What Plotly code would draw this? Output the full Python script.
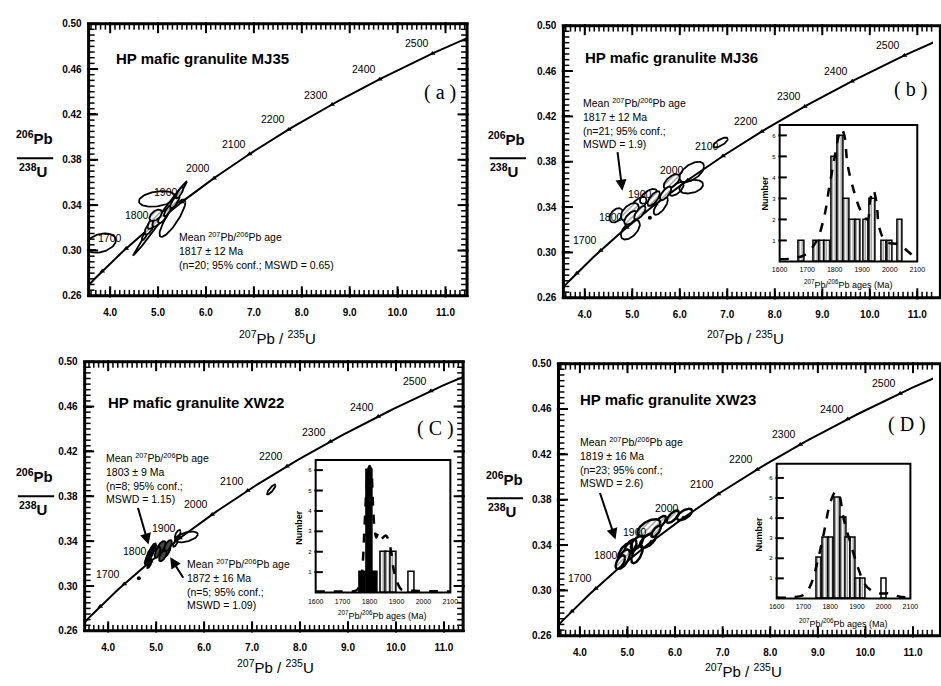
import numpy as np
import plotly.graph_objects as go

W, H = 941, 686
FONT = "Liberation Sans"

# ---------------- data ----------------
LAMBDA_238 = 1.55125e-10   # 1/yr
LAMBDA_235 = 9.8485e-10    # 1/yr

concordia_ages = list(range(1450, 2760, 10))
concordia_tick_ages = [1600, 1700, 1800, 1900, 2000, 2100, 2200, 2300, 2400, 2500, 2600]
concordia_label_ages = [1700, 1800, 1900, 2000, 2100, 2200, 2300, 2400, 2500]

x_ticks = [4.0, 5.0, 6.0, 7.0, 8.0, 9.0, 10.0, 11.0]
y_ticks = [0.26, 0.30, 0.34, 0.38, 0.42, 0.46, 0.50]

# panel (a) MJ35 ellipses
a_x = [3.80, 4.98, 5.30, 5.045, 4.72, 4.82, 4.90, 5.00, 5.10, 4.95, 5.20, 5.35, 5.45]
a_sx = [0.32, 0.38, 0.27, 0.56, 0.06, 0.10, 0.12, 0.12, 0.10, 0.13, 0.08, 0.10, 0.08]
a_y = [0.3065, 0.3455, 0.3285, 0.3285, 0.313, 0.320, 0.325, 0.327, 0.330, 0.331, 0.335, 0.343, 0.351]
a_sy = [0.0085, 0.0069, 0.0165, 0.0325, 0.004, 0.006, 0.006, 0.006, 0.006, 0.005, 0.005, 0.006, 0.005]
a_rho = [0.30, 0.30, 0.85, 0.995, 0.8, 0.7, 0.7, 0.7, 0.7, 0.5, 0.8, 0.8, 0.8]
a_style = ["open", "open", "open", "open", "hatch", "hatch", "hatch", "hatch", "hatch",
           "hatch", "hatch", "hatch", "hatch"]

# panel (b) MJ36 ellipses
b_x = [6.86, 6.25, 6.24, 5.83, 5.93, 5.60, 5.70, 5.34, 5.45, 5.13, 4.66, 4.95, 4.96, 4.97, 5.16]
b_sx = [0.15, 0.26, 0.25, 0.17, 0.15, 0.15, 0.12, 0.18, 0.13, 0.17, 0.14, 0.19, 0.20, 0.14, 0.12]
b_y = [0.397, 0.371, 0.358, 0.3625, 0.356, 0.341, 0.352, 0.3495, 0.3475, 0.342, 0.3327,
       0.3357, 0.320, 0.3306, 0.335]
b_sy = [0.0043, 0.009, 0.006, 0.0065, 0.006, 0.0078, 0.006, 0.0065, 0.0065, 0.007, 0.0063,
        0.0078, 0.0086, 0.006, 0.006]
b_rho = [0.7, 0.55, 0.3, 0.6, 0.6, 0.7, 0.7, 0.6, 0.7, 0.6, 0.4, 0.5, 0.55, 0.6, 0.7]
b_style = ["open", "open", "open", "hatch", "open", "open", "hatch", "open", "hatch", "open",
           "open", "hatch", "open", "hatch", "hatch"]
b_dot_x = [5.37]
b_dot_y = [0.3306]

# panel (c) XW22 ellipses
c_x = [5.63, 5.45, 7.40, 4.83, 4.88, 4.93, 4.86, 5.10, 5.20, 5.14, 5.25, 5.03, 5.40]
c_sx = [0.24, 0.06, 0.09, 0.07, 0.08, 0.07, 0.05, 0.10, 0.10, 0.08, 0.08, 0.06, 0.05]
c_y = [0.3437, 0.346, 0.386, 0.324, 0.329, 0.333, 0.320, 0.334, 0.331, 0.327, 0.336, 0.330, 0.338]
c_sy = [0.0048, 0.004, 0.0045, 0.005, 0.0055, 0.005, 0.004, 0.006, 0.006, 0.005, 0.005, 0.005, 0.003]
c_rho = [0.5, 0.6, 0.85, 0.7, 0.7, 0.7, 0.7, 0.6, 0.6, 0.6, 0.6, 0.6, 0.7]
c_style = ["open", "open", "open", "black", "black", "black", "black", "gray", "gray",
           "gray", "gray", "gray", "open"]
c_dot_x = [4.64]
c_dot_y = [0.307]

# panel (d) XW23 ellipses
d_x = [6.20, 5.95, 5.68, 5.45, 5.43, 5.20, 5.06, 4.95, 4.91, 5.20, 4.85, 5.60]
d_sx = [0.16, 0.13, 0.13, 0.24, 0.17, 0.13, 0.13, 0.15, 0.14, 0.12, 0.10, 0.10]
d_y = [0.367, 0.365, 0.3597, 0.3553, 0.344, 0.342, 0.338, 0.3337, 0.3276, 0.332, 0.325, 0.352]
d_sy = [0.005, 0.0055, 0.006, 0.0075, 0.0065, 0.006, 0.007, 0.008, 0.0085, 0.008, 0.006, 0.005]
d_rho = [0.6, 0.7, 0.7, 0.55, 0.6, 0.6, 0.6, 0.6, 0.6, 0.6, 0.6, 0.7]
d_style = ["open", "hatch", "hatch", "hatch", "open", "open", "open", "open", "hatch",
           "open", "hatch", "hatch"]

# inset histograms (207Pb/206Pb ages, Ma)
b_hist_ages = [1680, 1735, 1755, 1775, 1800, 1822, 1843, 1865, 1885, 1915, 1937, 1980, 2002, 2037]
b_hist_counts = [1, 1, 1, 1, 5, 6, 3, 2, 2, 2, 3, 1, 1, 2]
b_curve_ages = [1600, 1650, 1690, 1733, 1763, 1781, 1799, 1815, 1825, 1835, 1847, 1871, 1895,
                1919, 1930, 1940, 1952, 1962, 1986, 2034, 2064, 2095]
b_curve_vals = [0.1, 0.15, 0.3, 0.95, 2.2, 3.6, 4.9, 6.0, 6.3, 6.0, 4.6, 3.3, 2.4, 2.0, 3.0,
                3.4, 2.8, 1.6, 0.95, 0.8, 0.5, 0.15]

c_hist_black_ages = [1775, 1800, 1822]
c_hist_black_counts = [1, 6, 1]
c_hist_hatch_ages = [1853, 1871, 1889]
c_hist_hatch_counts = [2, 2, 2]
c_hist_white_ages = [1956]
c_hist_white_counts = [1]
c_curve_ages = [1600, 1650, 1700, 1750, 1762, 1772, 1780, 1788, 1795, 1800, 1806, 1812, 1818,
                1825, 1832, 1840, 1850, 1860, 1870, 1880, 1890, 1903, 1918, 1940, 1980, 2050, 2100]
c_curve_vals = [0.05, 0.05, 0.05, 0.1, 0.3, 1.0, 2.8, 5.0, 6.0, 6.2, 6.0, 4.5, 3.2, 2.7, 2.9,
                2.6, 2.7, 2.8, 2.6, 2.0, 1.1, 0.5, 0.15, 0.1, 0.08, 0.06, 0.05]

d_hist_hatch_ages = [1760, 1783, 1805, 1828, 1850, 1868, 1886, 1904, 1923]
d_hist_hatch_counts = [2, 3, 3, 5, 4, 3, 3, 1, 1]
d_hist_white_ages = [2001]
d_hist_white_counts = [1]
d_curve_ages = [1600, 1650, 1704, 1728, 1752, 1777, 1801, 1820, 1832, 1850, 1875, 1905, 1930,
                1954, 1985, 2021, 2057, 2100]
d_curve_vals = [0.05, 0.05, 0.2, 0.7, 1.8, 3.3, 4.8, 5.3, 5.2, 4.0, 2.8, 1.5, 0.7, 0.4, 0.25,
                0.25, 0.1, 0.05]

inset_x_ticks = [1600, 1700, 1800, 1900, 2000, 2100]
inset_y_ticks = [1, 2, 3, 4, 5, 6]


# ---------------- helpers ----------------
def r238(t_ma):
    return np.exp(LAMBDA_238 * np.asarray(t_ma, dtype=float) * 1e6) - 1


def r235(t_ma):
    return np.exp(LAMBDA_235 * np.asarray(t_ma, dtype=float) * 1e6) - 1


def ellipse_xy(x, sx, y, sy, rho, n=72):
    t = np.linspace(0, 2 * np.pi, n)
    ex = x + sx * np.cos(t)
    ey = y + sy * (rho * np.cos(t) + np.sqrt(max(1 - rho ** 2, 0)) * np.sin(t))
    return ex, ey


def P(px, py):
    return px / W, 1 - py / H


def dom_x(p0, p1):
    return [p0 / W, min(p1 / W, 1.0)]


def dom_y(top, bottom):
    return [1 - bottom / H, 1 - top / H]


fig = go.Figure()
annotations = []
shapes = []


def add_marker_ticks(xr, yr, wpx, hpx, xs, ys, length, sides, xa, ya, width):
    """Inside frame tick marks drawn as short line markers (axis decoration)."""
    dx = (xr[1] - xr[0]) / wpx * length / 2.0
    dy = (yr[1] - yr[0]) / hpx * length / 2.0
    X, Y, S = [], [], []
    for x in xs:
        if xr[0] <= x <= xr[1]:
            if "b" in sides:
                X.append(float(x)); Y.append(yr[0] + dy); S.append("line-ns")
            if "t" in sides:
                X.append(float(x)); Y.append(yr[1] - dy); S.append("line-ns")
    for y in ys:
        if yr[0] <= y <= yr[1]:
            if "l" in sides:
                X.append(xr[0] + dx); Y.append(float(y)); S.append("line-ew")
            if "r" in sides:
                X.append(xr[1] - dx); Y.append(float(y)); S.append("line-ew")
    fig.add_trace(go.Scatter(x=X, y=Y, mode="markers", cliponaxis=False,
                             marker=dict(symbol=S, size=length, color="black",
                                         line=dict(color="black", width=width)),
                             xaxis=xa, yaxis=ya, hoverinfo="skip"))


# ---------------- main panels ----------------
panels = [
    dict(ax="", xs=a_x, sxs=a_sx, ys=a_y, sys=a_sy, rhos=a_rho, styles=a_style, dots=None,
         lw=1.8, px=(82, 467), py=(18, 295), xr=[3.55, 11.45], sides="btlr", right=1.0),
    dict(ax="2", xs=b_x, sxs=b_sx, ys=b_y, sys=b_sy, rhos=b_rho, styles=b_style,
         dots=(b_dot_x, b_dot_y), lw=1.8, px=(565, 941), py=(20, 297), xr=[3.55, 11.33],
         sides="btl", right=1.02),
    dict(ax="3", xs=c_x, sxs=c_sx, ys=c_y, sys=c_sy, rhos=c_rho, styles=c_style,
         dots=(c_dot_x, c_dot_y), lw=1.8, px=(78, 463), py=(362, 636), xr=[3.51, 11.40],
         sides="btlr", right=1.0),
    dict(ax="4", xs=d_x, sxs=d_sx, ys=d_y, sys=d_sy, rhos=d_rho, styles=d_style, dots=None,
         lw=2.4, px=(560, 941), py=(364, 641), xr=[3.55, 11.42], sides="btl", right=1.02),
]

YR = [0.26, 0.50]
minor_x = [round(float(v), 2) for v in np.arange(3.5, 11.51, 0.1)]
minor_y = [round(float(v), 3) for v in np.arange(0.26, 0.5001, 0.005)]

for p in panels:
    xa, ya = "x" + p["ax"], "y" + p["ax"]
    fig.add_trace(go.Scatter(x=r235(concordia_ages), y=r238(concordia_ages), mode="lines",
                             line=dict(color="black", width=2), xaxis=xa, yaxis=ya,
                             hoverinfo="skip"))
    fig.add_trace(go.Scatter(x=r235(concordia_tick_ages), y=r238(concordia_tick_ages),
                             mode="markers", marker=dict(symbol="triangle-up", size=5,
                                                         color="black"),
                             xaxis=xa, yaxis=ya, hoverinfo="skip"))
    for age in concordia_label_ages:
        annotations.append(dict(x=float(r235(age)), y=float(r238(age)), xref=xa, yref=ya,
                                text=str(age), showarrow=False, xanchor="right",
                                yanchor="bottom", xshift=-2, yshift=2,
                                font=dict(family=FONT, size=10.5, color="black")))
    for x, sx, y, sy, rho, st in zip(p["xs"], p["sxs"], p["ys"], p["sys"], p["rhos"],
                                     p["styles"]):
        ex, ey = ellipse_xy(x, sx, y, sy, rho)
        kw = dict(x=ex, y=ey, mode="lines", line=dict(color="black", width=p["lw"]),
                  xaxis=xa, yaxis=ya, hoverinfo="skip")
        if st == "hatch":
            kw.update(fill="toself", fillcolor="white",
                      fillpattern=dict(shape="/", fgcolor="#333333", bgcolor="white",
                                       size=4, solidity=0.35))
        elif st == "black":
            kw.update(fill="toself", fillcolor="black")
        elif st == "gray":
            kw.update(fill="toself", fillcolor="#444444")
        fig.add_trace(go.Scatter(**kw))
    if p["dots"] is not None:
        fig.add_trace(go.Scatter(x=p["dots"][0], y=p["dots"][1], mode="markers",
                                 marker=dict(size=4, color="black"), xaxis=xa, yaxis=ya,
                                 hoverinfo="skip"))
    wpx = p["px"][1] - p["px"][0]
    hpx = p["py"][1] - p["py"][0]
    add_marker_ticks(p["xr"], YR, wpx, hpx, minor_x, minor_y, 5, p["sides"], xa, ya, 1.5)
    add_marker_ticks(p["xr"], YR, wpx, hpx, x_ticks, y_ticks, 8, p["sides"], xa, ya, 2)
    shapes.append(dict(type="rect", xref=f"{xa} domain", yref=f"{ya} domain", x0=0,
                       x1=p["right"], y0=0, y1=1, line=dict(color="black", width=3),
                       layer="above"))

# ---------------- insets ----------------
hatch_pattern = dict(shape="|", fgcolor="black", bgcolor="white", size=3, solidity=0.4)


def add_bars(ages, counts, xa, ya, kind):
    marker = dict(color="white", line=dict(color="black", width=1.5))
    if kind == "hatch":
        marker["pattern"] = hatch_pattern
    elif kind == "black":
        marker["color"] = "black"
    fig.add_trace(go.Bar(x=ages, y=counts, width=20, marker=marker, xaxis=xa, yaxis=ya,
                         hoverinfo="skip"))


def add_curve(ages, vals, xa, ya):
    fig.add_trace(go.Scatter(x=ages, y=vals, mode="lines",
                             line=dict(color="black", width=2.5, dash="dash", shape="spline"),
                             xaxis=xa, yaxis=ya, hoverinfo="skip"))


add_bars(b_hist_ages, b_hist_counts, "x5", "y5", "hatch")
add_curve(b_curve_ages, b_curve_vals, "x5", "y5")

add_bars(c_hist_black_ages, c_hist_black_counts, "x6", "y6", "black")
add_bars(c_hist_hatch_ages, c_hist_hatch_counts, "x6", "y6", "hatch")
add_bars(c_hist_white_ages, c_hist_white_counts, "x6", "y6", "white")
add_curve(c_curve_ages, c_curve_vals, "x6", "y6")

add_bars(d_hist_hatch_ages, d_hist_hatch_counts, "x7", "y7", "hatch")
add_bars(d_hist_white_ages, d_hist_white_counts, "x7", "y7", "white")
add_curve(d_curve_ages, d_curve_vals, "x7", "y7")

insets = [("5", (785, 925), (121, 260), 6.5), ("6", (313, 450), (462, 597), 6.5),
          ("7", (782, 918), (466, 603), 6.7)]
for k, ipx, ipy, top in insets:
    wpx = ipx[1] - ipx[0]
    hpx = ipy[1] - ipy[0]
    add_marker_ticks([1600, 2100], [0, top], wpx, hpx, [], inset_y_ticks, 6, "l",
                     f"x{k}", f"y{k}", 2)
    shapes.append(dict(type="rect", xref=f"x{k} domain", yref=f"y{k} domain", x0=0, x1=1,
                       y0=0, y1=1, line=dict(color="black", width=2), layer="above"))


# ---------------- axes ----------------
TICKFONT = dict(family=FONT, size=10, color="black", weight="bold")


def main_x(domain, rng, anchor):
    return dict(domain=domain, range=rng, anchor=anchor, tickmode="array",
                tickvals=x_ticks, ticktext=[f"{v:.1f}" for v in x_ticks], ticks="inside",
                ticklen=7, tickwidth=2, tickcolor="black",
                showgrid=False, zeroline=False, showline=False, ticklabelstandoff=9,
                tickfont=TICKFONT)


def main_y(domain, anchor):
    return dict(domain=domain, range=YR, anchor=anchor, tickmode="array", tickvals=y_ticks,
                ticktext=[f"{v:.2f}" for v in y_ticks], ticks="inside", ticklen=7,
                tickwidth=2, tickcolor="black", showgrid=False,
                zeroline=False, showline=False, ticklabelstandoff=6, tickfont=TICKFONT)


def inset_x(domain, anchor):
    return dict(domain=domain, range=[1600, 2100], anchor=anchor, tickmode="array",
                tickvals=inset_x_ticks, ticks="", showgrid=False, zeroline=False,
                showline=False, ticklabelstandoff=3,
                tickfont=dict(family=FONT, size=7, color="black"))


def inset_y(domain, anchor, top):
    return dict(domain=domain, range=[0, top], anchor=anchor, tickmode="array",
                tickvals=inset_y_ticks, ticks="", showgrid=False, zeroline=False,
                showline=False, ticklabelstandoff=3,
                tickfont=dict(family=FONT, size=6, color="black"))


layout_axes = {}
for p in panels:
    k = p["ax"]
    layout_axes["xaxis" + k] = main_x(dom_x(*p["px"]), p["xr"], "y" + k)
    layout_axes["yaxis" + k] = main_y(dom_y(*p["py"]), "x" + k)
for k, ipx, ipy, top in insets:
    layout_axes["xaxis" + k] = inset_x(dom_x(*ipx), "y" + k)
    layout_axes["yaxis" + k] = inset_y(dom_y(*ipy), "x" + k, top)


# ---------------- texts ----------------
def text_px(px, py, text, size, xanchor="left", yanchor="middle", family=FONT, bold=False,
            angle=0, align="left"):
    x, y = P(px, py)
    annotations.append(dict(x=x, y=y, xref="paper", yref="paper", text=text, showarrow=False,
                            xanchor=xanchor, yanchor=yanchor, align=align, textangle=angle,
                            font=dict(family=family, size=size, color="black",
                                      weight="bold" if bold else "normal")))


def arrow_px(hx, hy, tx, ty):
    x, y = P(hx, hy)
    annotations.append(dict(x=x, y=y, xref="paper", yref="paper", text="", showarrow=True,
                            ax=tx - hx, ay=ty - hy, arrowhead=2, arrowsize=1.1, arrowwidth=2,
                            arrowcolor="black"))


MEAN = "Mean <sup>207</sup>Pb/<sup>206</sup>Pb age"

text_px(108, 53, "HP mafic granulite MJ35", 15, bold=True)
text_px(585, 52, "HP mafic granulite MJ36", 15, bold=True)
text_px(100, 404, "HP mafic granulite XW22", 15, bold=True)
text_px(580, 400, "HP mafic granulite XW23", 15, bold=True)

for px, py, lab in [(439, 88, "( a )"), (918, 85, "( b )"), (435, 430, "( C )"),
                    (915, 426, "( D )")]:
    text_px(px, py, lab, 20, xanchor="center", family="Liberation Serif")

text_px(172, 226, MEAN + "<br>1817 ± 12 Ma<br>(n=20; 95% conf.; MSWD = 0.65)", 10.5,
        yanchor="top")
text_px(583, 90, MEAN + "<br>1817 ± 12 Ma<br>(n=21; 95% conf.;<br>MSWD = 1.9)", 10.5,
        yanchor="top")
text_px(98, 451, MEAN + "<br>1803 ± 9 Ma<br>(n=8; 95% conf.;<br>MSWD = 1.15)", 10.5,
        yanchor="top")
text_px(180, 559, MEAN + "<br>1872 ± 16 Ma<br>(n=5; 95% conf.;<br>MSWD = 1.09)", 10.5,
        yanchor="top")
text_px(580, 435, MEAN + "<br>1819 ± 16 Ma<br>(n=23; 95% conf.;<br>MSWD = 2.6)", 10.5,
        yanchor="top")

arrow_px(625, 188, 620, 148)
arrow_px(143, 548, 132, 510)
arrow_px(165, 561, 179, 583)
arrow_px(618, 543, 602, 495)

for cx, cy in [(274, 337), (750, 337), (272, 672), (748, 676)]:
    text_px(cx, cy, "<sup>207</sup>Pb / <sup>235</sup>U", 15, xanchor="center")

for cx, cy, l0, l1, ly in [(27, 146, 9, 46, 155), (507, 147, 490, 527, 155),
                           (27, 490, 10, 47, 499), (505, 493, 487, 524, 501)]:
    text_px(cx, cy, "<sup>206</sup>Pb", 15, xanchor="center", yanchor="bottom", bold=True)
    text_px(cx - 2, ly + 1, "<sup>238</sup>U", 15, xanchor="center", yanchor="top", bold=True)
    x0, y0 = P(l0, ly)
    x1, _ = P(l1, ly)
    shapes.append(dict(type="line", xref="paper", yref="paper", x0=x0, x1=x1, y0=y0, y1=y0,
                       line=dict(color="black", width=2)))

INSET_T = "<sup>207</sup>Pb/<sup>206</sup>Pb ages (Ma)"
for cx, cy in [(855, 283), (381, 620), (850, 628)]:
    text_px(cx, cy, INSET_T, 9, xanchor="center")
for cx, cy in [(770, 190), (296, 530), (764, 538)]:
    text_px(cx, cy, "Number", 9, xanchor="center", angle=-90, bold=True)

fig.update_layout(width=W, height=H, margin=dict(l=0, r=0, t=0, b=0),
                  paper_bgcolor="white", plot_bgcolor="white", showlegend=False,
                  annotations=annotations, shapes=shapes, bargap=0, **layout_axes)

fig.write_html("out.html", config={"displayModeBar": False},
               post_script="document.body.style.margin='0px';"
                           "document.body.style.padding='0px';"
                           "document.body.style.overflow='hidden';")
